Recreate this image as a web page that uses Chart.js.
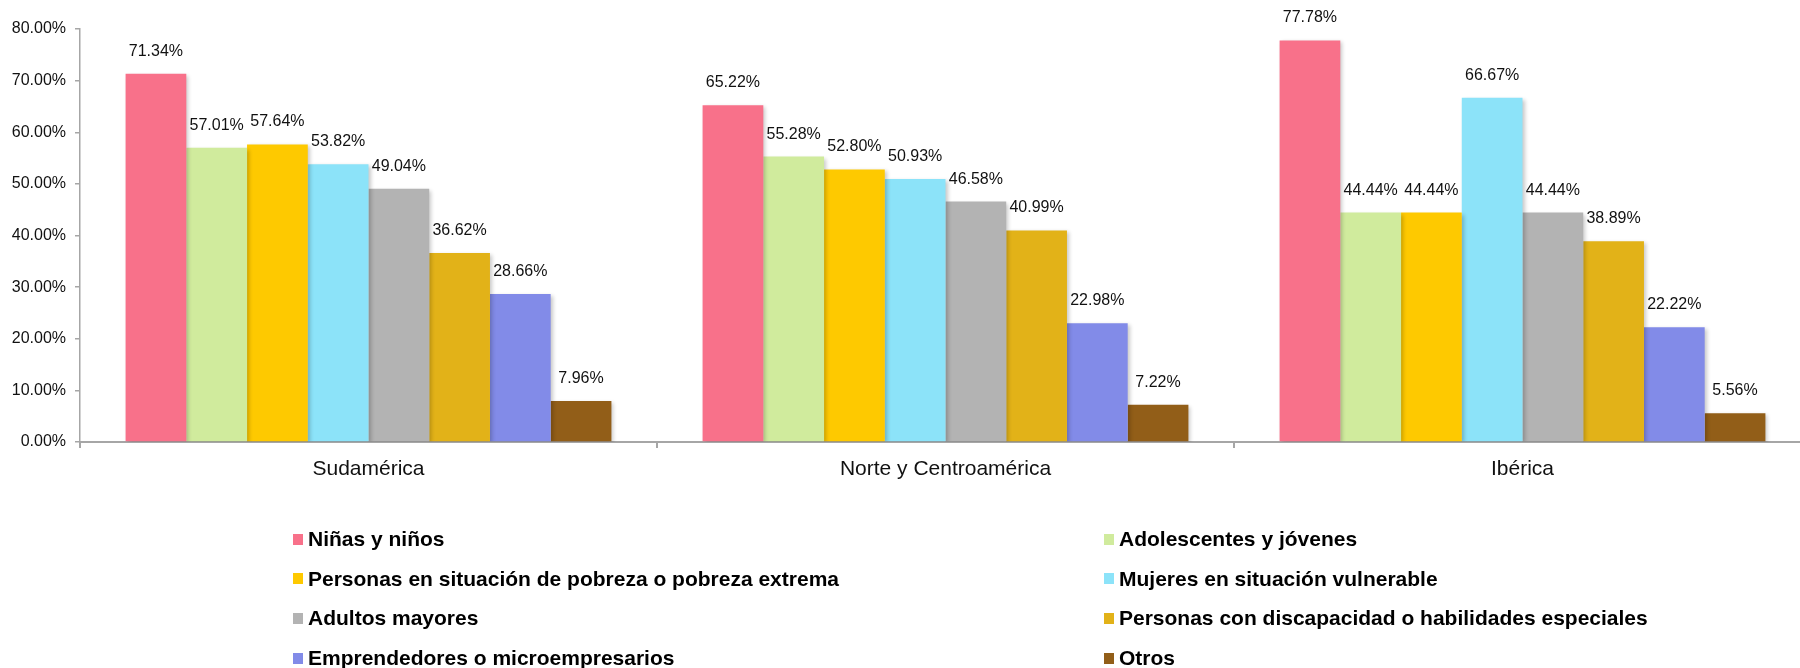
<!DOCTYPE html>
<html>
<head>
<meta charset="utf-8">
<script src="https://cdn.jsdelivr.net/npm/chart.js@4.4.1/dist/chart.umd.min.js"></script>
<style>
  html, body { margin: 0; padding: 0; background: #fff; overflow: hidden; }
  #wrap { position: relative; width: 1800px; height: 668px; overflow: hidden; }
  #chart { position: absolute; left: 0; top: 0; }
  #legend {
    position: absolute; left: 0; top: 519px; width: 1800px;
    font-family: "Liberation Sans", Arial, sans-serif; font-weight: bold;
    font-size: 21px; color: #000;
  }
  .item { position: absolute; height: 40px; display: flex; align-items: center; white-space: nowrap; }
  .swatch { width: 10px; height: 11px; margin-right: 5px; flex: none; }
</style>
</head>
<body>
<div id="wrap">
  <canvas id="chart" width="1812" height="668"></canvas>
  <div id="legend"></div>
</div>
<script>
// ========================================
// DATA
// ========================================
const regions = ["Sudamérica", "Norte y Centroamérica", "Ibérica"];

const groups = [
  "Niñas y niños",
  "Adolescentes y jóvenes",
  "Personas en situación de pobreza o pobreza extrema",
  "Mujeres en situación vulnerable",
  "Adultos mayores",
  "Personas con discapacidad o habilidades especiales",
  "Emprendedores o microempresarios",
  "Otros",
];

const ninos = [71.34, 65.22, 77.78];
const adolescentes = [57.01, 55.28, 44.44];
const pobreza = [57.64, 52.8, 44.44];
const mujeres = [53.82, 50.93, 66.67];
const adultos = [49.04, 46.58, 44.44];
const discapacidad = [36.62, 40.99, 38.89];
const emprendedores = [28.66, 22.98, 22.22];
const otros = [7.96, 7.22, 5.56];

const yTicks = [0, 10, 20, 30, 40, 50, 60, 70, 80];

const colors = [
  "#F8718A",
  "#D0EB9D",
  "#FEC900",
  "#8CE3F9",
  "#B3B3B3",
  "#E2B218",
  "#828BE8",
  "#925E18",
];

const seriesValues = [
  ninos, adolescentes, pobreza, mujeres,
  adultos, discapacidad, emprendedores, otros,
];

// ========================================
// PLUGINS
// ========================================
const barShadow = {
  id: "barShadow",
  beforeDatasetsDraw(chart) {
    const ctx = chart.ctx;
    ctx.save();
    ctx.shadowColor = "rgba(0,0,0,0.22)";
    ctx.shadowBlur = 4;
    ctx.shadowOffsetX = 2;
    ctx.shadowOffsetY = 2;
  },
  afterDatasetsDraw(chart) {
    chart.ctx.restore();
  },
};

const valueLabels = {
  id: "valueLabels",
  afterDatasetsDraw(chart) {
    const ctx = chart.ctx;
    ctx.save();
    ctx.font = "16px 'Liberation Sans', Arial, sans-serif";
    ctx.fillStyle = "#111";
    ctx.textAlign = "center";
    ctx.textBaseline = "alphabetic";
    chart.data.datasets.forEach((ds, i) => {
      chart.getDatasetMeta(i).data.forEach((bar, j) => {
        ctx.fillText(ds.data[j].toFixed(2) + "%", bar.x, bar.y - 18);
      });
    });
    ctx.restore();
  },
};

// ========================================
// CHART
// ========================================
const axisGray = "#A6A6A6";

new Chart(document.getElementById("chart"), {
  type: "bar",
  data: {
    labels: regions,
    datasets: groups.map((name, i) => ({
      label: name,
      data: seriesValues[i],
      backgroundColor: colors[i],
      borderWidth: 0,
      categoryPercentage: 0.842,
      barPercentage: 1.0,
    })),
  },
  options: {
    responsive: false,
    animation: false,
    layout: { padding: { left: 0, right: 1, top: 29, bottom: 178 } },
    plugins: {
      legend: { display: false },
      tooltip: { enabled: false },
    },
    scales: {
      x: {
        grid: {
          offset: true,
          drawOnChartArea: false,
          drawTicks: true,
          tickLength: 6,
          color: axisGray,
          lineWidth: 2,
        },
        border: { color: axisGray, width: 2 },
        ticks: {
          color: "#111",
          padding: 9,
          font: { family: "'Liberation Sans', Arial, sans-serif", size: 21 },
        },
        afterFit: (scale) => { scale.height = 48; },
      },
      y: {
        min: 0,
        max: 80,
        afterBuildTicks: (scale) => {
          scale.ticks = yTicks.map((v) => ({ value: v }));
        },
        grid: {
          drawOnChartArea: false,
          drawTicks: true,
          tickLength: 5,
          color: axisGray,
          lineWidth: 1.5,
        },
        border: { color: axisGray, width: 1.5 },
        ticks: {
          color: "#111",
          padding: 9,
          font: { family: "'Liberation Sans', Arial, sans-serif", size: 16 },
          callback: (v) => Number(v).toFixed(2) + "%",
        },
        afterFit: (scale) => { scale.width = 80; },
      },
    },
  },
  plugins: [barShadow, valueLabels],
});

// ========================================
// LEGEND (two columns)
// ========================================
const legend = document.getElementById("legend");
const colX = [293, 1104];
groups.forEach((name, i) => {
  const item = document.createElement("div");
  item.className = "item";
  item.style.left = colX[i % 2] + "px";
  item.style.top = Math.floor(i / 2) * 39.7 + "px";
  item.innerHTML =
    '<span class="swatch" style="background:' + colors[i] + '"></span>' +
    "<span>" + name + "</span>";
  legend.appendChild(item);
});
</script>
</body>
</html>
